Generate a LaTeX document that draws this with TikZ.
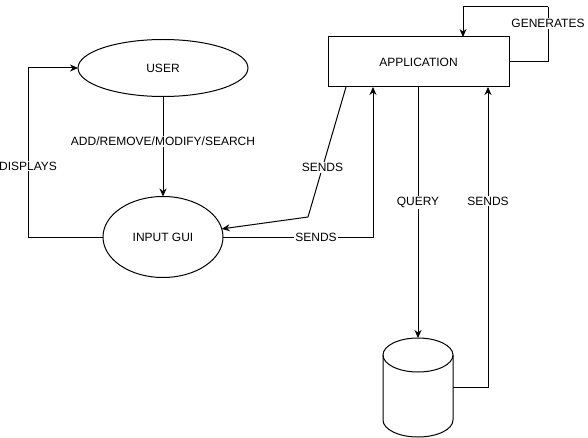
\documentclass[tikz,border=0pt]{standalone}
\usepackage{fontspec}
\setmainfont{Liberation Sans}
\usetikzlibrary{shapes.geometric,arrows.meta}

\tikzstyle{oval}=[draw,ellipse,line width=1pt,inner sep=0pt,outer sep=0pt]
\tikzstyle{box}=[draw,rectangle,line width=1pt,minimum width=181pt,minimum height=50pt,inner sep=0pt,outer sep=0pt]
\tikzstyle{store}=[rectangle,minimum width=70pt,minimum height=99pt,inner sep=0pt,outer sep=0pt]
\tikzstyle{edge}=[draw,line width=1pt,-{Stealth[length=8pt,width=7pt]}]
\tikzstyle{line}=[draw,line width=1pt]
\tikzstyle{weight}=[fill=white,inner sep=1pt]

\begin{document}
\begin{tikzpicture}[x=1pt, y=-1pt, font=\fontsize{12}{14}\selectfont]
    \useasboundingbox (0,0) rectangle (588,438);
    % First we draw the shapes
    \node[oval, minimum width=170pt, minimum height=57pt] (user) at (163,68) {USER};
    \node[oval, minimum width=120pt, minimum height=81pt] (gui) at (163,237) {INPUT GUI};
    \node[box] (app) at (418.5,62) {APPLICATION};
    \node[store] (db) at (418,387.5) {};
    % the database drum
    \path[line] ([yshift=-17pt]db.north west) -- ([yshift=17pt]db.south west)
        arc[start angle=180, end angle=360, x radius=35pt, y radius=17pt]
        -- ([yshift=-17pt]db.north east);
    \path[line] ([yshift=-17pt]db.north) ellipse[x radius=35pt, y radius=17pt];
    % Corners of the bent connectors
    \coordinate (disp) at (28,68);
    \coordinate (kink) at (308,217);
    \coordinate (loop) at (548,7);
    % Connect shapes and write the labels
    \path[edge] (user) -- node[weight, pos=0.45] {ADD/REMOVE/MODIFY/SEARCH} (gui);
    \path[line] (gui.west) -| node[weight, pos=0.71] {DISPLAYS} (disp);
    \path[edge] (disp) -- (user.west);
    \path[edge] (gui.east) -| node[weight, pos=0.31] {SENDS} ([xshift=-45.5pt]app.south);
    \path[line] ([xshift=-72.5pt]app.south) -- node[weight, pos=0.62] {SENDS} (kink);
    \path[edge] (kink) -- (gui);
    \path[line] (app.east) -| node[weight, pos=0.85] {GENERATES} (loop);
    \path[edge] (loop) -| ([xshift=44.5pt]app.north);
    \path[edge] (app.south -| db.north) -- node[weight, pos=0.46] {QUERY} (db.north);
    \path[edge] (db.east) -| node[weight, pos=0.81] {SENDS} ([xshift=69.5pt]app.south);
\end{tikzpicture}
\end{document}
